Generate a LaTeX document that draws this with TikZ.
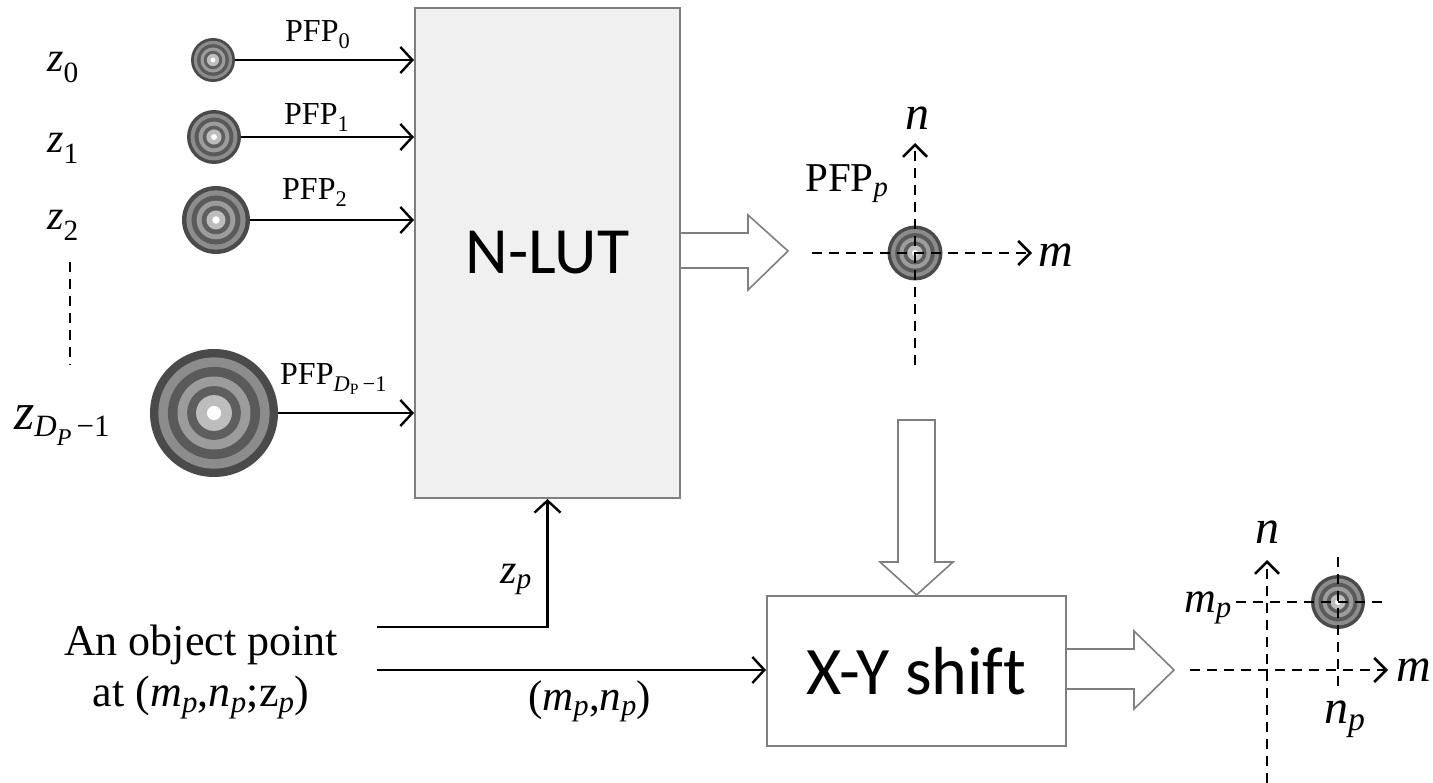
\documentclass[tikz,border=0pt]{standalone}
\usepackage{fontspec}
\setmainfont{Liberation Serif}
\newfontfamily\carl[Ligatures=NoCommon]{Carlito}
\usetikzlibrary{arrows.meta}
\definecolor{boxfill}{HTML}{F0F0F0}
\definecolor{boxgray}{HTML}{7F7F7F}
\definecolor{rgA}{HTML}{4A4A4A}
\definecolor{rgB}{HTML}{8C8C8C}
\definecolor{rgC}{HTML}{5A5A5A}
\definecolor{rgD}{HTML}{9C9C9C}
\definecolor{rgE}{HTML}{5E5E5E}
\definecolor{rgF}{HTML}{BDBDBD}
\newcommand\pfprings[2]{%
  \foreach \f/\c in {1/rgA,0.87/rgB,0.72/rgC,0.57/rgD,0.42/rgE,0.28/rgF,0.11/white}{%
    \fill[\c] (#1.center) circle[radius=\f*#2pt];}}
\newcommand\sub[1]{\textsubscript{#1}}
\begin{document}
\begin{tikzpicture}[x=1pt,y=-1pt,
  arr/.style={line width=2.6pt,-{Straight Barb[length=12pt,width=26pt,line width=2.4pt]}},
  dsh/.style={line width=2.5pt,dash pattern=on 10pt off 7pt},
  dsharr/.style={dsh,-{Straight Barb[length=12pt,width=24pt,line width=2.5pt]}},
  hollow/.style={draw=boxgray,line width=1.6pt,fill=white,line join=miter},
  lbl/.style={inner sep=0,anchor=base west},
  ring/.style={circle,inner sep=0,minimum size=#1},
  zfont/.style={font=\fontsize{42}{46}\selectfont},
  pfont/.style={font=\fontsize{32}{36}\selectfont},
  bfont/.style={font=\fontsize{43}{51}\selectfont},
  afont/.style={font=\fontsize{48}{52}\selectfont}
]
\useasboundingbox (0,0) rectangle (1433,783);

% main boxes
\node[draw=boxgray,fill=boxfill,line width=2pt,minimum width=265pt,minimum height=490pt,inner sep=0]
  (nlut) at (547.5,253) {\carl\fontsize{66}{72}\selectfont N-LUT};
\node[draw=boxgray,fill=white,line width=2pt,minimum width=299pt,minimum height=150pt,inner sep=0]
  (xy) at (916.5,671) {\carl\fontsize{68}{74}\selectfont X-Y shift};

% z labels
\node[lbl,zfont] (z0) at (47,72) {\textit{z}\sub{0}};
\node[lbl,zfont] (z1) at (47,153) {\textit{z}\sub{1}};
\node[lbl,zfont] (z2) at (47,230) {\textit{z}\sub{2}};
\draw[dsh] (70,262) -- (70,365);
\node[lbl,font=\fontsize{52}{56}\selectfont] (zd) at (14,430)
  {\textit{z}\raisebox{-7pt}{\fontsize{31}{31}\selectfont\textit{D}\raisebox{-9pt}{\fontsize{24}{24}\selectfont\textit{P}}\,−1}};

% PFP circles
\node[ring=44pt] (c0) at (213,60) {}; \pfprings{c0}{22}
\node[ring=54pt] (c1) at (214,137) {}; \pfprings{c1}{27}
\node[ring=68pt] (c2) at (216,220) {}; \pfprings{c2}{34}
\node[ring=128pt] (c3) at (214,413) {}; \pfprings{c3}{64}

\draw[arr] (c0.east) -- (c0.east -| nlut.west);
\draw[arr] (c1.east) -- (c1.east -| nlut.west);
\draw[arr] (c2.east) -- (c2.east -| nlut.west);
\draw[arr] (c3.east) -- (c3.east -| nlut.west);

\node[lbl,pfont] (l0) at (285,42) {PFP\sub{0}};
\node[lbl,pfont] (l1) at (284,125) {PFP\sub{1}};
\node[lbl,pfont] (l2) at (282,200) {PFP\sub{2}};
\node[lbl,pfont] (l3) at (280,385) {PFP\sub{\textit{D}\sub{P}\,−1}};

% hollow arrows
\draw[hollow] (nlut.east |- 0,233) -- (748,233) -- (748,215) -- (788,251) -- (748,290) -- (748,268) -- (nlut.east |- 0,268);
\draw[hollow] (898,420) -- (935,420) -- (935,562) -- (953,562) -- (xy.north) -- (880,562) -- (898,562) -- cycle;
\draw[hollow] (xy.east |- 0,649) -- (1134,649) -- (1134,631) -- (1174,670) -- (1134,709) -- (1134,689) -- (xy.east |- 0,689);

% crosshair 1
\node[ring=55pt] (p1) at (915,253) {}; \pfprings{p1}{27.5}
\coordinate (h1a) at (812,253); \coordinate (h1b) at (1032,253);
\coordinate (v1a) at (915,365); \coordinate (v1b) at (915,143);
\draw[dsharr] (h1a) -- (h1b);
\draw[dsharr] (v1a) -- (v1b);
\node[inner sep=0,afont] (n1) at (917,118) {\textit{n}};
\node[inner sep=0,anchor=west,afont] (m1) at (1038,255) {\textit{m}};
\node[lbl,font=\fontsize{41}{46}\selectfont] (pp) at (805,192) {PFP\sub{\textit{p}}};

% crosshair 2
\node[ring=54pt] (p2) at (1338,602) {}; \pfprings{p2}{27}
\coordinate (h2a) at (1190,670); \coordinate (h2b) at (1388,670);
\coordinate (v2a) at (1267,783); \coordinate (v2b) at (1267,560);
\draw[dsharr] (h2a) -- (h2b);
\draw[dsharr] (v2a) -- (v2b);
\coordinate (h3a) at (1236,602); \coordinate (h3b) at (1382,602);
\coordinate (v3a) at (1338,557); \coordinate (v3b) at (1338,693);
\draw[dsh] (h3a) -- (h3b);
\draw[dsh] (v3a) -- (v3b);
\node[inner sep=0,afont] (n2) at (1267,532) {\textit{n}};
\node[inner sep=0,anchor=west,afont] (m2) at (1396,670) {\textit{m}};
\node[lbl,font=\fontsize{44}{48}\selectfont] (mp) at (1184,612) {\textit{m}\sub{\textit{p}}};
\node[lbl,afont] (np) at (1324,723) {\textit{n}\sub{\textit{p}}};

% object point
\node[align=center,inner sep=0,font=\fontsize{44}{51}\selectfont] (src) at (201,672)
  {An object point\\at (\textit{m}\sub{\textit{p}},\textit{n}\sub{\textit{p}};z\sub{\textit{p}})};
\coordinate (s1) at (377,627);
\coordinate (s2) at (377,670);
\draw[arr] (s1) -| (nlut.south);
\draw[arr] (s2) -- (s2 -| xy.west);
\node[lbl,zfont] (zp) at (500,583) {\textit{z}\sub{\textit{p}}};
\node[lbl,bfont] (mn) at (528,710) {(\textit{m}\sub{\textit{p}},\textit{n}\sub{\textit{p}})};
\end{tikzpicture}
\end{document}
